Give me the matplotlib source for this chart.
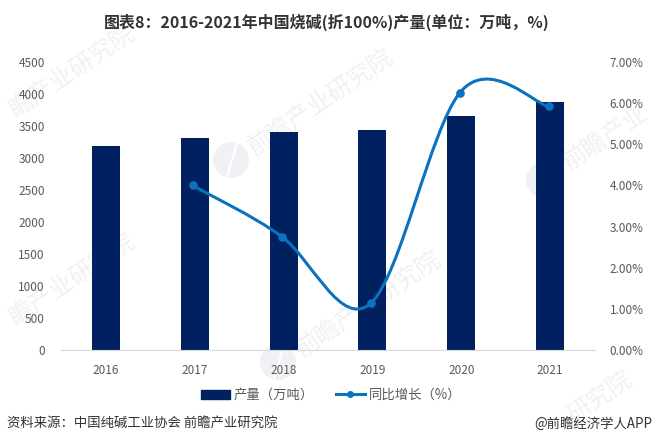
import numpy as np
import matplotlib
matplotlib.use('Agg')
import matplotlib.pyplot as plt
import matplotlib.transforms as mtrans
from matplotlib.path import Path
from matplotlib.patches import PathPatch, Circle
from matplotlib.lines import Line2D

plt.rcParams['font.family'] = ['Noto Sans CJK SC', 'DejaVu Sans']

years = ['2016', '2017', '2018', '2019', '2020', '2021']
output = [3190, 3310, 3410, 3440, 3660, 3880]
growth_years = [1, 2, 3, 4, 5]
growth = [4.0, 2.75, 1.14, 6.25, 5.92]
left_ticks = [0, 500, 1000, 1500, 2000, 2500, 3000, 3500, 4000, 4500]
right_ticks = [0, 1, 2, 3, 4, 5, 6, 7]

navy = '#002060'
blue = '#0B72BD'
grey = '#595959'
wm_color = '#EFF1F5'
W, H = 654, 446


def smooth_path(xs, ys):
    # office style smoothed line, bezier handles from the neighbours
    verts = [(xs[0], ys[0])]
    codes = [Path.MOVETO]
    n = len(xs)
    for i in range(n - 1):
        x0, y0 = (xs[i - 1], ys[i - 1]) if i > 0 else (xs[i], ys[i])
        x3, y3 = (xs[i + 2], ys[i + 2]) if i + 2 < n else (xs[i + 1], ys[i + 1])
        verts.append((xs[i] + (xs[i + 1] - x0) / 6, ys[i] + (ys[i + 1] - y0) / 6 * 1.12))
        verts.append((xs[i + 1] - (x3 - xs[i]) / 6, ys[i + 1] - (y3 - ys[i]) / 6 * 1.12))
        verts.append((xs[i + 1], ys[i + 1]))
        codes += [Path.CURVE4, Path.CURVE4, Path.CURVE4]
    return Path(verts, codes)


fig = plt.figure(figsize=(W / 100, H / 100), dpi=100)
ax = fig.add_axes([61.5 / W, 1 - 350 / H, 533 / W, 288 / H])
ax.patch.set_visible(False)
ax2 = ax.twinx()

ax.bar(range(6), output, width=28 / 88.83, color=navy, zorder=2)
ax.set_xlim(-0.5, 5.5)
ax.set_ylim(0, 4500)
ax.set_xticks(range(6))
ax.set_xticklabels(years)
ax.set_yticks(left_ticks)
ax2.set_ylim(0, 7)
ax2.set_yticks(right_ticks)
ax2.set_yticklabels(['%.2f%%' % t for t in right_ticks])

# line sits a touch left of the bar centres in the original
shift = mtrans.ScaledTranslation(-1.5 / 100, 0, fig.dpi_scale_trans)
ax2.add_patch(PathPatch(smooth_path(growth_years, growth), fc='none', ec=blue, lw=2.2,
                        zorder=3, transform=ax2.transData + shift))
ax2.plot(growth_years, growth, ls='none', marker='o', ms=5.2, color=blue, zorder=4,
         transform=ax2.transData + shift)

for a in (ax, ax2):
    for s in a.spines.values():
        s.set_visible(False)
    a.tick_params(length=0, labelsize=8.5, labelcolor=grey)
ax.spines['bottom'].set_visible(True)
ax.spines['bottom'].set_color('#D9D9D9')
ax.tick_params(axis='x', pad=10)
ax.tick_params(axis='y', pad=12)
ax2.tick_params(axis='y', pad=11)
ax2.set_zorder(ax.get_zorder() + 1)
ax2.patch.set_visible(False)

fig.text(326.5 / W, 1 - 22 / H, '图表8：2016-2021年中国烧碱(折100%)产量(单位：万吨，%)',
         ha='center', va='center', fontsize=11.5, fontweight='bold', color='#333333')

handles = [plt.Rectangle((0, 0), 1, 1, color=navy),
           Line2D([], [], color=blue, lw=2.2, marker='o', ms=4)]
fig.legend(handles, ['产量（万吨）', '同比增长（%）'], loc='center', ncol=2,
           bbox_to_anchor=(331 / W, 1 - 395 / H), frameon=False, fontsize=9.6,
           labelcolor=grey, handlelength=2.2, columnspacing=1.6, handletextpad=0.3)

fig.text(7 / W, 1 - 424 / H, '资料来源：中国纯碱工业协会 前瞻产业研究院',
         ha='left', va='center', fontsize=9.6, color='#333333')
fig.text(652 / W, 1 - 424 / H, '@前瞻经济学人APP',
         ha='right', va='center', fontsize=9.6, color='#333333')

# watermarks, kept behind the chart
wm_texts = [(12, 112, '瞻产业研究院'), (250, 150, '前瞻产业研究院'), (298, 352, '前瞻产业研究院'),
            (565, 165, '前瞻产业'), (12, 320, '瞻产业研究院'), (570, 418, '研究院')]
wm_logos = [(231, 160), (278, 362), (544, 180)]
for mx, my, txt in wm_texts:
    fig.text(mx / W, 1 - my / H, txt, rotation=34, rotation_mode='anchor',
             ha='left', va='center', fontsize=17.5, color=wm_color, zorder=-1)
for mx, my in wm_logos:
    fig.add_artist(Circle((mx, H - my), 18, transform=mtrans.IdentityTransform(),
                          fc=wm_color, ec='none', zorder=-1))
    fig.add_artist(Line2D([mx - 4, mx + 6], [H - my - 17, H - my + 17], color='white', lw=1.5,
                          transform=mtrans.IdentityTransform(), zorder=-1))

fig.savefig('out.png', dpi=100)
